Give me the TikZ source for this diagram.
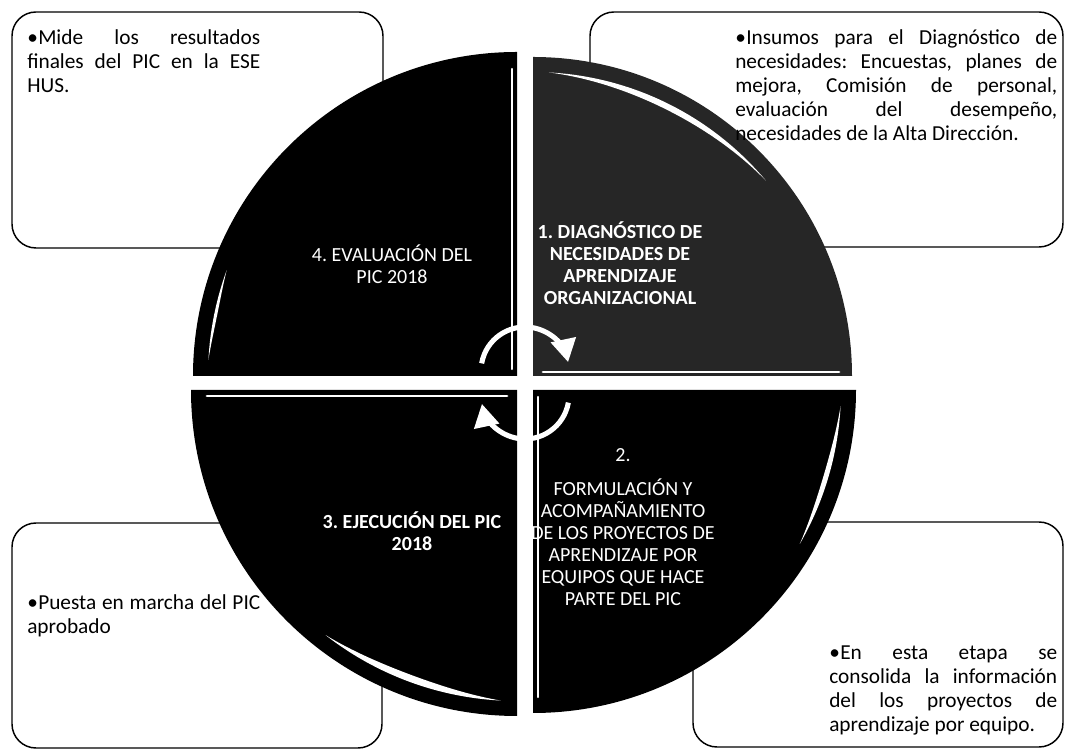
\documentclass[tikz,border=0pt]{standalone}
\usepackage{fontspec}
\setmainfont{Carlito}
\usetikzlibrary{arrows,positioning,calc}

\begin{document}
\frenchspacing
\begin{tikzpicture}[x=0.75pt, y=0.75pt, >=triangle 60, line join=round]
\tikzstyle{infobox}=[draw=black, line width=1.1pt, rounded corners=18pt]
\tikzstyle{quad}=[fill=black]
\tikzstyle{quadtext}=[text=white, align=center, inner sep=0pt]
\tikzstyle{boxtext}=[anchor=north west, align=justify, inner sep=0pt, font=\fontsize{16}{18}\selectfont]
\tikzstyle{cyclearrow}=[->, draw=white, line width=3.8pt]
\tikzstyle{gloss}=[fill=white]
\tikzstyle{bevel}=[draw=white, line width=1.6pt, line cap=round]

\useasboundingbox (0,0) rectangle (1068,752);
\coordinate (hub) at (525,369);

% boxes behind the wheel
\draw[infobox] (12,504) rectangle (383,740);
\draw[infobox] (590,505) rectangle (1063,740);
\draw[infobox] (12,4) rectangle (382,229);
\draw[infobox] (693,5) rectangle (1063,230);

% the four quadrants
\fill[quad, fill=black!85] ($(hub)+(8,7)$) -- ++(319,0) arc[start angle=0, end angle=90, radius=319] -- cycle;
\fill[quad] ($(hub)+(-8,7)$) -- ++(0,324) arc[start angle=90, end angle=180, radius=324] -- cycle;
\fill[quad] ($(hub)+(-8,-7)$) -- ++(-326,0) arc[start angle=180, end angle=270, radius=326] -- cycle;
\fill[quad] ($(hub)+(8,-7)$) -- ++(0,-323) arc[start angle=270, end angle=360, radius=323] -- cycle;

% shine
\foreach \dx/\dy/\rr/\sa/\ea/\gw in {8/7/304/87/40/6, -8/7/309/160/177/3, -8/-7/311/232/267/7, 8/-7/308/-3/-30/5}
{
  \begin{scope}[shift={($(hub)+(\dx,\dy)$)}]
    \fill[gloss] plot[domain=\sa:\ea, samples=40] (\x:{\rr-\gw*sin(180*(\x-\sa)/(\ea-\sa))})
      -- plot[domain=\ea:\sa, samples=40] (\x:\rr) -- cycle;
  \end{scope}
}
\draw[bevel] ($(hub)+(-13,14)$) -- ++(0,300);
\draw[bevel] ($(hub)+(13,-14)$) -- ++(0,-300);
\draw[bevel, line width=2.2pt] ($(hub)+(18,11)$) -- ++(296,0);
\draw[bevel, line width=2.2pt] ($(hub)+(-18,-13)$) -- ++(-300,0);

% cycle arrows
\draw[cyclearrow] ($(hub)+(0,12)+(170:44)$) arc[start angle=170, end angle=12, radius=44];
\draw[cyclearrow] ($(hub)+(0,-12)+(-10:44)$) arc[start angle=-10, end angle=-168, radius=44];

% labels in the wheel
\node[quadtext, font=\fontsize{15}{16.5}\selectfont\bfseries] (diagnostico) at (620,489)
  {1. DIAGNÓSTICO DE\\NECESIDADES DE\\APRENDIZAJE\\ORGANIZACIONAL};
\node[quadtext, font=\fontsize{15}{16.5}\selectfont] (evaluacion) at (392,488)
  {4. EVALUACIÓN DEL\\PIC 2018};
\node[quadtext, font=\fontsize{15}{16.5}\selectfont\bfseries] (ejecucion) at (412,221)
  {3. EJECUCIÓN DEL PIC\\2018};
\node[quadtext, font=\fontsize{15}{16.5}\selectfont] (formulacion) at (623,225)
  {2.\\[9pt]FORMULACIÓN Y\\ACOMPAÑAMIENTO\\DE LOS PROYECTOS DE\\APRENDIZAJE POR\\EQUIPOS QUE HACE\\PARTE DEL PIC};

% box texts
\node[boxtext, text width=174.75pt] (mide) at (27,723)
  {\hangindent=8.25pt\hangafter=1\makebox[8.25pt][l]{•}Mide los resultados\linebreak finales del PIC en la ESE HUS.};
\node[boxtext, text width=241.5pt] (insumos) at (735,723)
  {\hangindent=8.25pt\hangafter=1\makebox[8.25pt][l]{•}Insumos para el Diagnóstico de\linebreak necesidades: Encuestas, planes de\linebreak mejora, Comisión de personal,\linebreak evaluación del desempeño,\linebreak necesidades de la Alta Dirección.};
\node[boxtext, text width=174.75pt] (puesta) at (27,158)
  {\hangindent=8.25pt\hangafter=1\makebox[8.25pt][l]{•}Puesta en marcha del PIC aprobado};
\node[boxtext, text width=171pt] (etapa) at (829,106)
  {\hangindent=8.25pt\hangafter=1\makebox[8.25pt][l]{•}En esta etapa se\linebreak consolida la información\linebreak del los proyectos de\linebreak aprendizaje por equipo.};
\end{tikzpicture}
\end{document}
